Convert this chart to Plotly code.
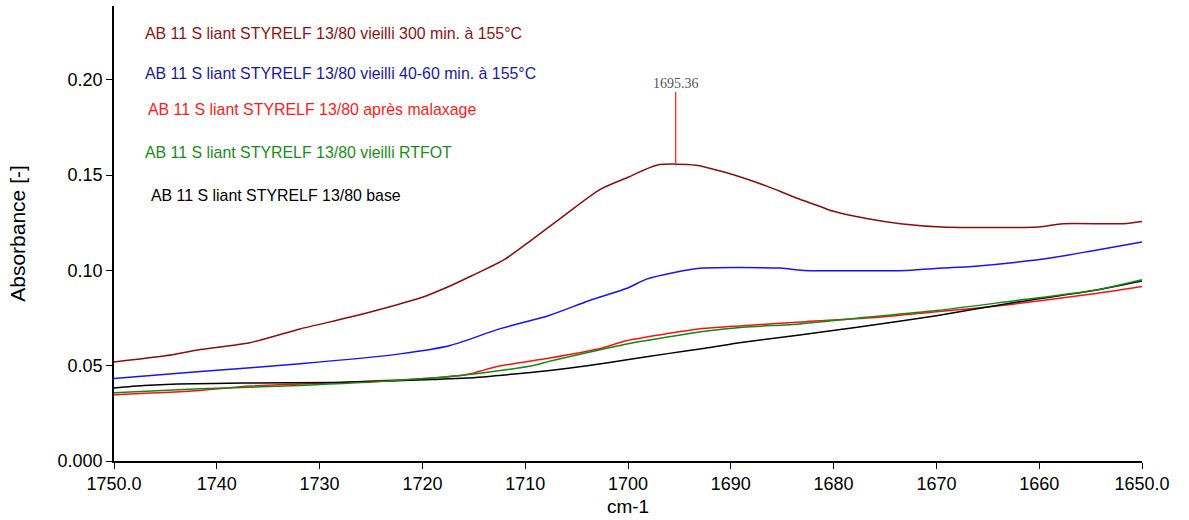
import plotly.graph_objects as go

# Wavenumber (cm-1) and absorbance for each binder spectrum
wn_300 = [1750, 1745, 1741.6, 1736.8, 1731.9, 1727, 1722.2, 1720, 1718, 1715.2, 1712,
          1709.3, 1706.6, 1702.7, 1700.1, 1697.2, 1693.4, 1690.4, 1686.5, 1684, 1681.3,
          1680, 1676.8, 1673.5, 1669.5, 1660.1, 1657.7, 1651.8, 1650]
abs_300 = [0.052, 0.0552, 0.0585, 0.062, 0.0693, 0.0755, 0.0824, 0.0859, 0.0902, 0.0972, 0.1058,
           0.1163, 0.1272, 0.1425, 0.1486, 0.1552, 0.1552, 0.1512, 0.1442, 0.1388, 0.1335,
           0.1310, 0.1272, 0.1245, 0.1228, 0.1228, 0.1245, 0.1245, 0.1257]

wn_4060 = [1750, 1741.6, 1731.9, 1722.2, 1717.3, 1712.5, 1707.6, 1703.8, 1700.1, 1698.2,
           1695.5, 1692.7, 1685.2, 1682.9, 1672.9, 1669.4, 1666.5, 1662.4, 1658.6, 1654.9, 1650]
abs_4060 = [0.0433, 0.047, 0.051, 0.0562, 0.0606, 0.0693, 0.0765, 0.0841, 0.0906, 0.0954,
            0.0989, 0.1012, 0.1012, 0.1000, 0.1000, 0.1012, 0.1021, 0.1042, 0.1068, 0.1102, 0.1149]

wn_malax = [1750, 1741.6, 1736.8, 1728.7, 1719, 1715.7, 1712.5, 1707.6, 1702.7, 1700.1,
            1696.3, 1692.5, 1688.8, 1682.7, 1675.6, 1670, 1666.2, 1662.4, 1658.6, 1654.9, 1650]
abs_malax = [0.0348, 0.037, 0.0393, 0.041, 0.0435, 0.0454, 0.0498, 0.054, 0.059, 0.0632,
             0.0667, 0.0696, 0.0710, 0.0731, 0.0754, 0.0783, 0.0801, 0.0824, 0.0850, 0.0876, 0.0916]

wn_rtfot = [1750, 1741.6, 1731.9, 1722.2, 1715.7, 1709.2, 1707.6, 1703.8, 1700.1, 1696.3,
            1692.5, 1688.8, 1683.3, 1677.7, 1670, 1662.4, 1654.9, 1650]
abs_rtfot = [0.0358, 0.0379, 0.0396, 0.0423, 0.0452, 0.0501, 0.0524, 0.0571, 0.0614, 0.0649,
             0.0681, 0.0702, 0.0719, 0.0749, 0.0789, 0.0841, 0.0893, 0.0951]

wn_base = [1750, 1747.1, 1743.8, 1737.4, 1728.7, 1719, 1715.7, 1709.2, 1707.6, 1703.8,
           1700.1, 1696.3, 1692.5, 1688.8, 1683.3, 1677.7, 1670, 1662.4, 1654.9, 1650]
abs_base = [0.0383, 0.0396, 0.0404, 0.0409, 0.0412, 0.0428, 0.0435, 0.0466, 0.0475, 0.0501,
            0.0531, 0.0562, 0.0592, 0.0623, 0.0661, 0.0702, 0.0762, 0.0832, 0.0893, 0.0945]

# Peak marker on the 300 min spectrum
peak_wn = 1695.36
peak_abs = 0.1552
peak_marker_top = 0.1936

series_names = [
    "AB 11 S liant STYRELF 13/80 vieilli 300 min. à 155°C",
    "AB 11 S liant STYRELF 13/80 vieilli 40-60 min. à 155°C",
    "AB 11 S liant STYRELF 13/80 après malaxage",
    "AB 11 S liant STYRELF 13/80 vieilli RTFOT",
    "AB 11 S liant STYRELF 13/80 base",
]
line_colors = ["#8b0d0d", "#1414ff", "#ff1010", "#108a10", "#000000"]
label_colors = ["#8b1414", "#1a1a99", "#ff1a1a", "#1a8c1a", "#000000"]

x_ticks = [1750, 1740, 1730, 1720, 1710, 1700, 1690, 1680, 1670, 1660, 1650]
x_ticktext = ["1750.0", "1740", "1730", "1720", "1710", "1700", "1690", "1680", "1670", "1660", "1650.0"]
y_ticks = [0, 0.05, 0.10, 0.15, 0.20]
y_ticktext = ["0.000", "0.05", "0.10", "0.15", "0.20"]

fig = go.Figure()

data = [
    (wn_300, abs_300),
    (wn_4060, abs_4060),
    (wn_malax, abs_malax),
    (wn_base, abs_base),
    (wn_rtfot, abs_rtfot),
]
order = [0, 1, 2, 4, 3]
for (wn, ab), idx in zip(data, order):
    fig.add_trace(go.Scatter(
        x=wn, y=ab, mode="lines", name=series_names[idx],
        line=dict(color=line_colors[idx], width=1.5, shape="spline", smoothing=0.7),
        showlegend=False, hoverinfo="skip",
    ))

fig.add_trace(go.Scatter(
    x=[peak_wn, peak_wn], y=[peak_abs, peak_marker_top], mode="lines",
    line=dict(color="#ff1a1a", width=1.2), showlegend=False, hoverinfo="skip",
))

fig.add_annotation(
    x=peak_wn, y=peak_marker_top, xref="x", yref="y", text=f"{peak_wn:.2f}",
    showarrow=False, yanchor="bottom", yshift=-1,
    font=dict(family="Liberation Serif, Times New Roman, serif", size=14, color="#555555"),
)

# Series labels stacked in the upper-left corner of the plot
label_pos = [(0.0285, 0.9387), (0.0279, 0.8526), (0.0308, 0.7722), (0.0285, 0.6773), (0.0340, 0.5838)]
for name, color, (px, py) in zip(series_names, label_colors, label_pos):
    fig.add_annotation(
        x=px, y=py, xref="paper", yref="paper", text=name, showarrow=False,
        xanchor="left", yanchor="middle",
        font=dict(family="Liberation Sans, Arial, sans-serif", size=15.9, color=color),
    )

axis_font = dict(family="Liberation Sans, Arial, sans-serif", size=18, color="#000000")

fig.update_layout(
    width=1189, height=520,
    margin=dict(l=114, r=47, t=6, b=57),
    paper_bgcolor="white", plot_bgcolor="white",
    font=dict(family="Liberation Sans, Arial, sans-serif", color="#000000"),
    xaxis=dict(
        range=[1750, 1650], tickmode="array", tickvals=x_ticks, ticktext=x_ticktext,
        showgrid=False, zeroline=False, showline=True, linecolor="#000000", linewidth=1.6,
        ticks="outside", ticklen=6, tickwidth=1.3, tickcolor="#000000",
        tickfont=axis_font,
        title=dict(text="cm-1", font=dict(family="Liberation Sans, Arial, sans-serif", size=19), standoff=6),
    ),
    yaxis=dict(
        range=[0, 0.2387], tickmode="array", tickvals=y_ticks, ticktext=y_ticktext,
        showgrid=False, zeroline=False, showline=True, linecolor="#000000", linewidth=1.6,
        ticks="outside", ticklen=6, tickwidth=1.3, tickcolor="#000000",
        tickfont=axis_font,
        title=dict(text="Absorbance [-]", font=dict(family="Liberation Sans, Arial, sans-serif", size=21), standoff=26),
    ),
)

fig.write_html("out.html")
